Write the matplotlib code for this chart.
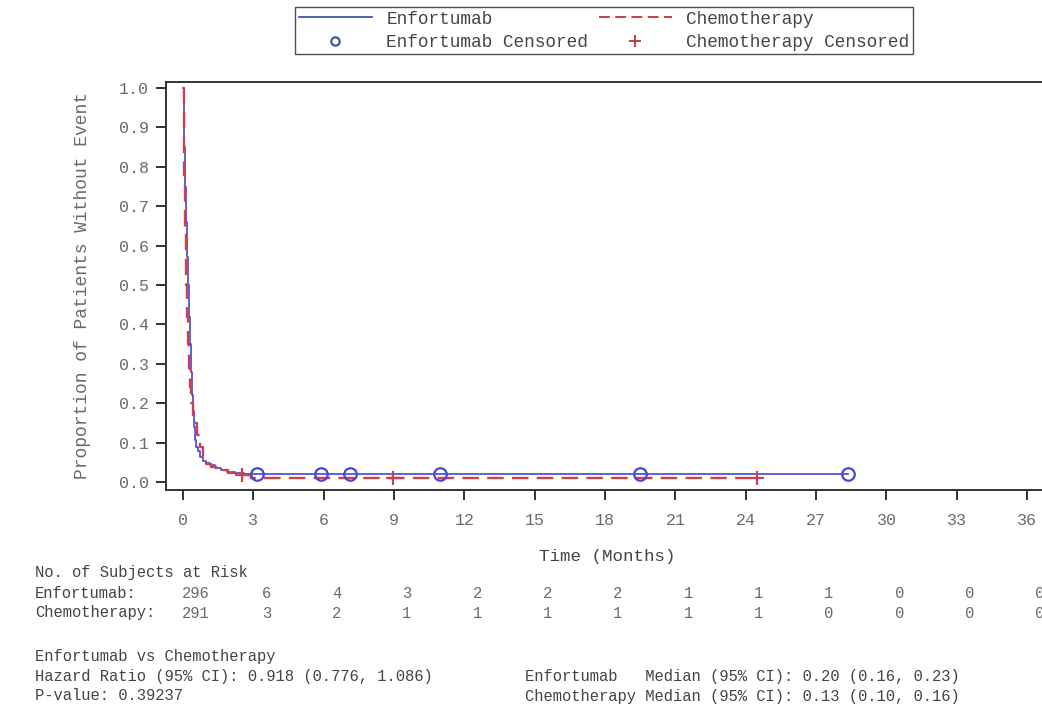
import numpy as np
import matplotlib
matplotlib.use('Agg')
import matplotlib.pyplot as plt
from matplotlib.lines import Line2D
import matplotlib.transforms as mtransforms

plt.rcParams['font.family'] = ['Liberation Mono', 'DejaVu Sans Mono']

# Kaplan-Meier step data (months, proportion without event)
enf_t = [0, 0.03, 0.06, 0.09, 0.12, 0.16, 0.20, 0.24, 0.28, 0.33, 0.38, 0.43, 0.48,
         0.52, 0.57, 0.63, 0.72, 0.85, 1.0, 1.15, 1.35, 1.6, 1.86, 2.2, 2.6]
enf_s = [1.0, 0.93, 0.85, 0.75, 0.66, 0.57, 0.50, 0.42, 0.35, 0.28, 0.22, 0.18, 0.14,
         0.107, 0.09, 0.078, 0.064, 0.054, 0.048, 0.043, 0.036, 0.030, 0.026, 0.022, 0.020]
enf_cens = [3.16, 5.89, 7.12, 10.96, 19.49, 28.36]

chemo_t = [0, 0.03, 0.06, 0.09, 0.13, 0.17, 0.21, 0.26, 0.31, 0.36, 0.42, 0.47, 0.6,
           0.72, 0.87, 1.0, 1.2, 1.58, 1.9, 2.3, 2.9]
chemo_s = [1.0, 0.90, 0.78, 0.64, 0.50, 0.42, 0.35, 0.29, 0.24, 0.20, 0.17, 0.15, 0.12,
           0.09, 0.056, 0.045, 0.038, 0.030, 0.024, 0.017, 0.0095]
chemo_cens = [2.5, 8.96, 24.46]

# subjects at risk
risk_times = [0, 3, 6, 9, 12, 15, 18, 21, 24, 27, 30, 33, 36]
enf_risk = [296, 6, 4, 3, 2, 2, 2, 1, 1, 1, 0, 0, 0]
chemo_risk = [291, 3, 2, 1, 1, 1, 1, 1, 1, 0, 0, 0, 0]

blue = '#4646d2'
red = '#cc4050'
txt = '#444444'
grey = '#6a6a6a'


def km_at(t, s, x):
    idx = np.searchsorted(t, x, side='right') - 1
    return np.asarray(s)[idx]


def extend(t, s, t_end):
    return list(t) + [t_end], list(s) + [s[-1]]


fig = plt.figure(figsize=(10.42, 7.06), dpi=100)
ax = fig.add_axes([166 / 1042, 1 - 490 / 706, 882 / 1042, 408.5 / 706])

et, es = extend(enf_t, enf_s, max(enf_cens))
ct, cs = extend(chemo_t, chemo_s, max(chemo_cens))
ax.plot(et, es, drawstyle='steps-post', color=blue, lw=1.2)
ax.plot(ct, cs, drawstyle='steps-post', color=red, lw=1.7, dashes=(7, 3.5))
ax.plot(enf_cens, km_at(enf_t, enf_s, enf_cens), 'o', ms=9, mfc='none',
        mec=blue, mew=1.6, ls='none')
ax.plot(chemo_cens, km_at(chemo_t, chemo_s, chemo_cens), '+', ms=10,
        mec=red, mew=1.6, ls='none')

ax.set_xlim(-0.725, 36.89)
ax.set_ylim(-0.0203, 1.0165)
ax.set_xticks(risk_times)
ax.set_yticks(np.arange(0, 1.01, 0.1))
ax.yaxis.set_major_formatter(matplotlib.ticker.FormatStrFormatter('%.1f'))
ax.tick_params(direction='out', length=7.5, width=1.4, color='#333333',
               labelcolor=grey, labelsize=12)
ax.tick_params(axis='x', pad=9)
ax.tick_params(axis='y', pad=5)
for sp in ax.spines.values():
    sp.set_linewidth(1.4)
    sp.set_color('#333333')

ax.set_ylabel('Proportion of Patients Without Event', fontsize=13, color=grey)
ax.yaxis.set_label_coords(-0.095, 0.5)
ax.yaxis.label.set_va('center')
ax.set_xlabel('Time (Months)', fontsize=12.6, color=txt)
ax.xaxis.set_label_coords(0.5, -0.164)
ax.xaxis.label.set_va('center')

# legend
handles = [
    Line2D([], [], color='#3c5a96', lw=1.3),
    Line2D([], [], ls='none', marker='o', ms=6, mfc='none', mec='#3c5a96', mew=1.6),
    Line2D([], [], color='#c0303c', lw=1.3, dashes=(6, 3)),
    Line2D([], [], ls='none', marker='+', ms=8, mec='#c0303c', mew=1.3),
]
labels = ['Enfortumab', 'Enfortumab Censored', 'Chemotherapy', 'Chemotherapy Censored']
leg = fig.legend(handles, labels, ncol=2, loc='upper center',
                 bbox_to_anchor=(604 / 1042, 1 - 7 / 706), frameon=True,
                 fancybox=False, edgecolor='#222222', fontsize=12.8,
                 handlelength=4.1, handletextpad=0.8, columnspacing=0.6,
                 labelspacing=0.35, borderpad=0.2, borderaxespad=0)
leg.get_frame().set_linewidth(1.0)
for t in leg.get_texts():
    t.set_color(txt)

# at-risk table
fs = 11.2
fig.text(35 / 1042, 1 - 573 / 706, 'No. of Subjects at Risk', fontsize=fs,
         color=txt, va='center')
fig.text(35 / 1042, 1 - 593 / 706, 'Enfortumab:', fontsize=fs, color=txt, va='center')
fig.text(35 / 1042, 1 - 613 / 706, 'Chemotherapy:', fontsize=fs, color=txt, va='center')
trans = mtransforms.blended_transform_factory(ax.transData, fig.transFigure)
for x, n1, n2 in zip(risk_times, enf_risk, chemo_risk):
    ax.text(x + 0.55, 1 - 593 / 706, str(n1), fontsize=fs, color=grey,
            ha='center', va='center', transform=trans, clip_on=False)
    ax.text(x + 0.55, 1 - 613 / 706, str(n2), fontsize=fs, color=grey,
            ha='center', va='center', transform=trans, clip_on=False)

# summary statistics
fig.text(35 / 1042, 1 - 657 / 706, 'Enfortumab vs Chemotherapy', fontsize=fs,
         color=txt, va='center')
fig.text(35 / 1042, 1 - 677 / 706, 'Hazard Ratio (95% CI): 0.918 (0.776, 1.086)',
         fontsize=fs, color=txt, va='center')
fig.text(35 / 1042, 1 - 696 / 706, 'P-value: 0.39237', fontsize=fs, color=txt, va='center')
fig.text(525 / 1042, 1 - 677 / 706, 'Enfortumab   Median (95% CI): 0.20 (0.16, 0.23)',
         fontsize=fs, color=txt, va='center')
fig.text(525 / 1042, 1 - 696 / 706, 'Chemotherapy Median (95% CI): 0.13 (0.10, 0.16)',
         fontsize=fs, color=txt, va='center')

fig.savefig('out.png', dpi=100)
